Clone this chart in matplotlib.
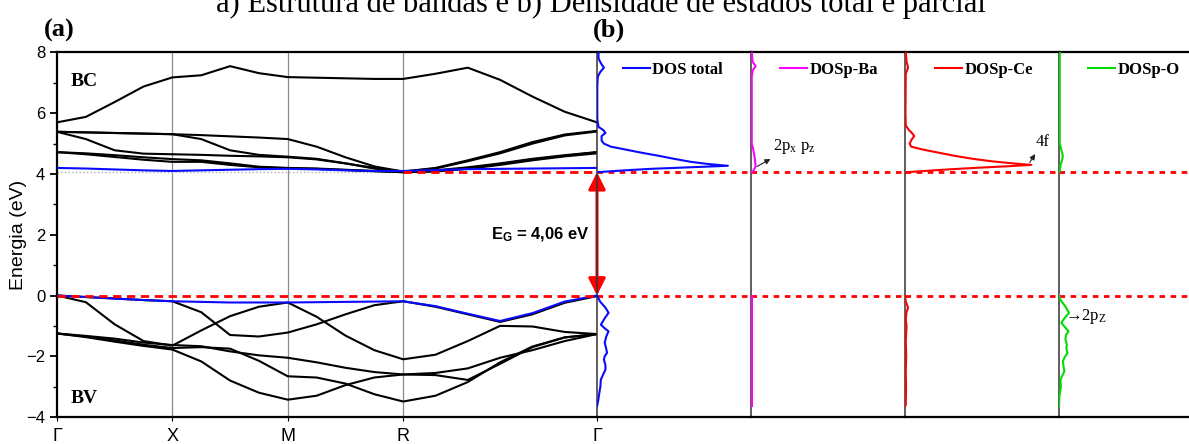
import numpy as np
import matplotlib.pyplot as plt
from matplotlib.ticker import MultipleLocator

plt.rcParams['mathtext.fontset'] = 'custom'
plt.rcParams['mathtext.rm'] = 'Liberation Serif'
plt.rcParams['mathtext.it'] = 'Liberation Serif:italic'
plt.rcParams['mathtext.bf'] = 'Liberation Serif:bold'
plt.rcParams['mathtext.sf'] = 'Liberation Sans:bold'

# caminho de alta simetria
k_ticks = [0, 1, 2, 3, 4.68]
k_labels = ['Γ', 'X', 'M', 'R', 'Γ']
k = [0, 0.25, 0.5, 0.75, 1, 1.25, 1.5, 1.75, 2, 2.25, 2.5, 2.75, 3,
     3.28, 3.56, 3.84, 4.12, 4.40, 4.68]
E_GAP = 4.06

# bandas de conducao
bc_top = [5.7, 5.88, 6.37, 6.88, 7.18, 7.25, 7.55, 7.32, 7.19, 7.17, 7.15, 7.13, 7.13,
          7.3, 7.5, 7.1, 6.55, 6.05, 5.7]
bc_a = [5.39, 5.37, 5.35, 5.33, 5.31, 5.28, 5.24, 5.2, 5.15, 4.9, 4.55, 4.25, 4.08,
        4.2, 4.45, 4.72, 5.05, 5.3, 5.42]
bc_b = [5.39, 5.15, 4.78, 4.67, 4.65, 4.63, 4.6, 4.58, 4.55, 4.48, 4.35, 4.2, 4.08,
        4.18, 4.42, 4.68, 5.0, 5.27, 5.4]
bc_c = [5.39, 5.37, 5.35, 5.33, 5.31, 5.15, 4.78, 4.63, 4.57, 4.5, 4.35, 4.18, 4.07,
        4.12, 4.22, 4.35, 4.5, 4.62, 4.72]
bc_d = [4.72, 4.68, 4.62, 4.55, 4.49, 4.45, 4.35, 4.24, 4.2, 4.18, 4.14, 4.1, 4.06,
        4.1, 4.2, 4.33, 4.48, 4.6, 4.72]
bc_e = [4.72, 4.65, 4.56, 4.47, 4.4, 4.4, 4.3, 4.22, 4.19, 4.17, 4.13, 4.09, 4.06,
        4.08, 4.17, 4.3, 4.45, 4.58, 4.68]
bc_min = [4.2, 4.18, 4.15, 4.12, 4.1, 4.12, 4.14, 4.16, 4.17, 4.15, 4.12, 4.1, 4.1,
          4.13, 4.16, 4.17, 4.18, 4.19, 4.2]

# bandas de valencia
bv_max = [0, -0.05, -0.1, -0.15, -0.19, -0.21, -0.23, -0.23, -0.23, -0.22, -0.21, -0.2, -0.19,
          -0.35, -0.6, -0.84, -0.58, -0.2, 0]
bv_a = [0, -0.05, -0.1, -0.15, -0.19, -0.55, -1.3, -1.35, -1.22, -0.95, -0.62, -0.32, -0.19,
        -0.37, -0.62, -0.87, -0.62, -0.24, -0.02]
bv_b = [0, -0.22, -0.95, -1.5, -1.65, -1.15, -0.68, -0.37, -0.23, -0.7, -1.32, -1.8, -2.1,
        -1.95, -1.5, -1.0, -1.02, -1.2, -1.27]
bv_c = [-1.25, -1.33, -1.42, -1.55, -1.63, -1.67, -1.84, -1.97, -2.05, -2.2, -2.38, -2.52, -2.6,
        -2.55, -2.4, -2.05, -1.8, -1.5, -1.27]
bv_d = [-1.25, -1.35, -1.48, -1.62, -1.73, -1.7, -1.75, -2.15, -2.66, -2.7, -2.9, -3.25, -3.49,
        -3.3, -2.85, -2.2, -1.68, -1.38, -1.27]
bv_e = [-1.25, -1.37, -1.52, -1.66, -1.78, -2.17, -2.8, -3.2, -3.43, -3.3, -2.95, -2.7, -2.6,
        -2.62, -2.78, -2.25, -1.7, -1.38, -1.27]

# DOS total
dos_tot_cb_e = [8.0, 7.8, 7.65, 7.5, 7.35, 7.2, 6.9, 5.8, 5.55, 5.45, 5.35, 5.25, 5.1, 5.0,
                4.9, 4.8, 4.7, 4.6, 4.5, 4.4, 4.33, 4.27, 4.22, 4.17, 4.12, 4.08, 4.06]
dos_tot_cb = [0.1, 0.1, 0.25, 0.45, 0.2, 0.05, 0.02, 0.02, 0.1, 0.4, 0.55, 0.3, 0.3, 0.45,
              0.9, 1.9, 2.9, 4.0, 5.0, 6.1, 7.2, 8.5, 6.0, 3.5, 1.8, 0.6, 0.1]
dos_tot_bv_e = [0.0, -0.2, -0.4, -0.57, -0.75, -0.96, -1.08, -1.18, -1.35, -1.56, -1.75, -1.89,
                -2.0, -2.11, -2.3, -2.44, -2.6, -2.77, -3.0, -3.21, -3.45, -3.65]
dos_tot_bv = [0.0, 0.2, 0.55, 0.75, 0.5, 0.25, 0.5, 0.75, 0.6, 0.5, 0.6, 0.65,
              0.5, 0.45, 0.55, 0.55, 0.4, 0.25, 0.22, 0.15, 0.08, 0.0]

# DOS parcial Ba
dos_ba_cb_e = [8.0, 7.7, 7.55, 7.4, 7.2, 5.0, 4.8, 4.5, 4.25, 4.1, 4.06]
dos_ba_cb = [0.05, 0.1, 0.3, 0.1, 0.05, 0.05, 0.15, 0.25, 0.3, 0.15, 0.05]
dos_ba_bv_e = [0.0, -1.0, -2.0, -3.0, -3.65]
dos_ba_bv = [0.05, 0.05, 0.05, 0.05, 0.05]

# DOS parcial Ce
dos_ce_cb_e = [8.0, 7.7, 7.5, 7.3, 6.0, 5.6, 5.45, 5.35, 5.25, 5.15, 5.0, 4.9, 4.8, 4.7, 4.6,
               4.5, 4.42, 4.36, 4.3, 4.25, 4.2, 4.15, 4.1, 4.07, 4.05]
dos_ce_cb = [0.05, 0.1, 0.2, 0.05, 0.03, 0.05, 0.25, 0.45, 0.6, 0.45, 0.3, 0.4, 1.2, 2.2, 3.2,
             4.4, 5.6, 6.8, 8.2, 6.5, 4.5, 2.8, 1.3, 0.4, 0.05]
dos_ce_bv_e = [0.0, -0.2, -0.4, -0.55, -0.8, -1.0, -1.5, -2.0, -2.5, -3.0, -3.6, -3.65]
dos_ce_bv = [0.0, 0.05, 0.2, 0.1, 0.05, 0.1, 0.05, 0.08, 0.05, 0.07, 0.05, 0.0]

# DOS parcial O
dos_o_cb_e = [8.0, 7.0, 5.0, 4.8, 4.6, 4.45, 4.3, 4.1, 4.06]
dos_o_cb = [0.05, 0.05, 0.05, 0.15, 0.25, 0.2, 0.1, 0.05, 0.0]
dos_o_bv_e = [0.0, -0.15, -0.35, -0.57, -0.75, -0.9, -1.05, -1.18, -1.3, -1.45, -1.6, -1.75,
              -1.89, -2.05, -2.17, -2.35, -2.5, -2.65, -2.77, -3.0, -3.32, -3.65]
dos_o_bv = [0.0, 0.1, 0.4, 0.65, 0.35, 0.15, 0.4, 0.62, 0.45, 0.42, 0.5, 0.48,
            0.55, 0.35, 0.25, 0.3, 0.35, 0.2, 0.1, 0.12, 0.03, 0.0]

W, H = 1189, 444
fig = plt.figure(figsize=(W / 100, H / 100), dpi=100)

# titulo cortado no topo, como na figura original
fig.text(0.505, 0.972, 'a) Estrutura de bandas e b) Densidade de estados total e parcial',
         ha='center', va='baseline', fontsize=22, family='Liberation Serif')
fig.text(44 / W, 1 - 30 / H, '(a)', ha='left', va='center', fontsize=19,
         family='Liberation Serif', weight='bold')
fig.text(593 / W, 1 - 30 / H, '(b)', ha='left', va='center', fontsize=19,
         family='Liberation Serif', weight='bold')

# ---- (a) estrutura de bandas
ax = fig.add_axes([57 / W, 27 / H, 540 / W, 364.5 / H])
for kk in k_ticks[1:4]:
    ax.axvline(kk, color='#8c8c8c', lw=0.9, zorder=0)
ax.plot([k_ticks[0], k_ticks[3]], [E_GAP, E_GAP], color='#b0b0b0', ls=':', lw=1, zorder=1)

for b in [bc_top, bc_a, bc_b, bc_c, bc_d, bc_e, bv_a, bv_b, bv_c, bv_d, bv_e]:
    ax.plot(k, b, color='black', lw=1.5, solid_joinstyle='round', zorder=2)
ax.plot(k, bc_min, color='#0a0aff', lw=1.5, zorder=3)
ax.plot(k, bv_max, color='#0a0aff', lw=1.5, zorder=3)

ax.plot([k_ticks[0], k_ticks[-1]], [0, 0], color='red', lw=2, dashes=(3, 2), zorder=4)
ax.plot([k_ticks[3], k_ticks[-1]], [E_GAP, E_GAP], color='red', lw=2, dashes=(3, 2), zorder=4)

ax.annotate('', xy=(k_ticks[-1], 0), xytext=(k_ticks[-1], E_GAP),
            arrowprops=dict(arrowstyle='<|-|>', color='red', lw=2.2, mutation_scale=26,
                            shrinkA=0, shrinkB=0),
            annotation_clip=False, zorder=6)
ax.text(k_ticks[-1] - 0.06, 2.0, r'$\mathsf{E_G}$ = 4,06 eV', ha='right', va='center',
        fontsize=12, family='Liberation Sans', weight='bold')
ax.text(0.12, 7.05, 'BC', fontsize=14, family='Liberation Serif', weight='bold', va='center')
ax.text(0.12, -3.4, 'BV', fontsize=14, family='Liberation Serif', weight='bold', va='center')

ax.set_xlim(k_ticks[0], k_ticks[-1])
ax.set_ylim(-4, 8)
ax.set_xticks(k_ticks)
ax.set_xticklabels(k_labels, fontsize=13, family='Liberation Sans')
ax.tick_params(axis='x', length=3, pad=5)
ax.yaxis.set_major_locator(MultipleLocator(2))
ax.yaxis.set_minor_locator(MultipleLocator(1))
ax.tick_params(axis='y', which='major', direction='out', length=5, width=1.3, labelsize=12)
ax.tick_params(axis='y', which='minor', direction='out', length=3, width=1.0)
for lab in ax.get_yticklabels():
    lab.set_family('Liberation Sans')
ax.set_ylabel('Energia (eV)', fontsize=14, family='Liberation Sans', labelpad=-1)
ax.spines['right'].set_visible(False)
for s in ['left', 'top', 'bottom']:
    ax.spines[s].set_linewidth(1.6)

# ---- (b) densidade de estados
paineis = [
    ('DOS total', '#0a0aff', dos_tot_cb_e, dos_tot_cb, dos_tot_bv_e, dos_tot_bv),
    ('DOSp-Ba', '#ff00ff', dos_ba_cb_e, dos_ba_cb, dos_ba_bv_e, dos_ba_bv),
    ('DOSp-Ce', '#ff0000', dos_ce_cb_e, dos_ce_cb, dos_ce_bv_e, dos_ce_bv),
    ('DOSp-O', '#00dd00', dos_o_cb_e, dos_o_cb, dos_o_bv_e, dos_o_bv),
]
leg_x = [0.17, 0.19, 0.195, 0.19]
dos_axes = []
for i, (nome, cor, ecb, dcb, ebv, dbv) in enumerate(paineis):
    a = fig.add_axes([(597 + 154 * i) / W, 27 / H, 154 / W, 364.5 / H])
    a.patch.set_visible(False)
    a.set_xlim(0, 10)
    a.set_ylim(-4, 8)
    a.set_xticks([])
    a.set_yticks([])
    a.plot(dcb, ecb, color=cor, lw=1.5, label=nome, zorder=3)
    a.plot(dbv, ebv, color=cor, lw=1.5, zorder=3)
    a.axhline(0, color='red', lw=2, dashes=(2, 2), zorder=2)
    a.axhline(E_GAP, color='red', lw=2, dashes=(2, 2), zorder=2)
    a.spines['left'].set_linewidth(1.1)
    a.spines['left'].set_color('#333333')
    a.spines['right'].set_visible(False)
    a.spines['top'].set_linewidth(1.6)
    a.spines['bottom'].set_linewidth(1.6)
    a.legend(loc='upper left', bbox_to_anchor=(leg_x[i], 0.975), frameon=False,
             borderaxespad=0, borderpad=0, handlelength=1.6, handletextpad=0.15,
             prop={'family': 'Liberation Serif', 'weight': 'bold', 'size': 12})
    dos_axes.append(a)

dos_axes[1].annotate(r'2p$_\mathrm{x}$ p$_\mathrm{z}$', xy=(0.4, 4.25), xytext=(1.4, 4.92),
                     fontsize=12, family='Liberation Serif', va='center',
                     arrowprops=dict(arrowstyle='<|-', color='#222222', lw=0.8,
                                     shrinkA=1, shrinkB=0, mutation_scale=8))
dos_axes[2].annotate('4f', xy=(8.1, 4.38), xytext=(8.5, 5.05),
                     fontsize=12, family='Liberation Serif', va='center',
                     arrowprops=dict(arrowstyle='<|-', color='#222222', lw=0.8,
                                     shrinkA=1, shrinkB=0, mutation_scale=8))
dos_axes[3].text(0.4, -0.7, '→2p$_\\mathrm{Z}$', fontsize=12, va='center',
                 family=['Liberation Serif', 'DejaVu Serif'])

fig.savefig('out.png', dpi=100)
